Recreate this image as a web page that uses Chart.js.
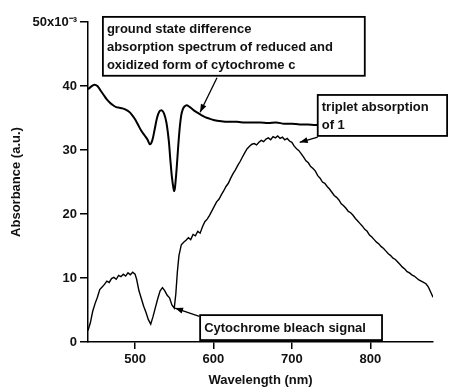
<!DOCTYPE html>
<html><head><meta charset="utf-8">
<script src="https://cdn.jsdelivr.net/npm/chart.js@4/dist/chart.umd.min.js"></script>
<style>html,body{margin:0;padding:0;background:#fff}#wrap{width:450px;height:388px}</style>
</head><body><div id="wrap"><canvas id="c" width="450" height="388"></canvas></div>
<script>
// Ground state difference spectrum (reduced - oxidized cytochrome c), x10^-3
const groundWavelengths = [440,444,448,452,456,460,464,468,472,476,480,484,488,492,496,500,504,508,512,516,519,522,525,528,531,534,537,540,543,545,547,549,550,551,553,555,557,559,561,563,566,570,575,580,585,590,595,600,610,620,630,640,650,660,670,680,690,700,710,720,730,738];
const groundAbsorbance  = [39.5,39.9,40.2,40.0,39.3,38.6,37.9,37.4,37.0,36.7,36.6,36.5,36.3,36.0,35.5,34.8,33.9,33.0,32.3,31.6,30.9,31.5,33.2,35.0,36.0,36.2,35.7,34.3,31.5,28.5,25.8,24.0,23.6,24.2,27.0,30.5,33.5,35.5,36.4,36.8,37.0,36.7,36.2,35.8,35.4,35.1,34.9,34.7,34.5,34.4,34.4,34.3,34.3,34.3,34.2,34.3,34.1,34.1,34.0,34.0,33.9,33.9];

// Triplet absorption of 1 (with cytochrome bleach), x10^-3
const tripletWavelengths = [440,443,446,449,452,455,458,461,464,467,470,473,476,479,482,485,488,491,494,497,500,502,505,508,511,514,517,520,523,526,529,532,535,538,541,544,547,550,552,554,556,559,562,565,568,571,574,577,580,583,586,589,592,595,598,601,604,607,610,613,616,619,622,625,628,631,634,637,640,643,646,649,652,655,658,661,664,667,670,673,676,679,682,685,688,691,694,697,700,703,706,709,712,715,718,721,724,727,730,733,736,739,742,745,748,751,754,757,760,763,766,769,772,775,778,781,784,787,790,793,796,799,802,805,808,811,814,817,820,823,826,829,832,835,838,841,844,847,850,853,856,859,862,865,868,871,874,877,880];
const tripletAbsorbance  = [1.8,3.0,4.8,6.0,7.0,8.2,8.6,9.0,9.5,9.3,9.9,10.1,9.8,10.4,10.2,10.6,10.3,10.8,10.5,10.9,10.6,9.8,8.0,6.8,5.6,4.6,3.5,2.8,4.0,5.4,6.8,8.0,8.5,8.0,7.3,6.9,5.8,5.3,7.5,11.0,13.5,15.2,15.6,15.9,16.3,16.0,16.8,16.6,17.3,17.0,18.0,18.8,19.2,19.8,20.5,21.2,21.9,22.3,23.0,23.6,24.3,24.8,25.6,26.3,26.9,27.6,28.2,28.9,29.6,30.2,30.6,30.9,31.0,30.8,31.2,31.5,31.3,31.7,31.9,31.6,32.1,31.9,32.2,31.8,32.0,31.6,31.8,31.4,31.2,30.6,30.2,29.9,29.4,28.9,28.3,28.0,27.4,27.1,26.7,26.0,25.6,25.0,24.8,24.3,23.9,23.4,22.9,22.6,22.2,21.6,21.3,20.9,20.4,20.2,19.8,19.3,18.9,18.5,18.1,17.6,17.3,16.7,16.4,16.0,15.6,15.3,14.9,14.6,14.2,13.8,13.5,13.1,12.9,12.5,12.1,11.7,11.4,11.0,10.8,10.5,10.3,10.0,9.7,9.5,9.3,9.1,8.6,7.8,7.0];

const xTickValues = [500,600,700,800];
const yTickValues = [0,10,20,30,40,50];
const yTopLabel = '50x10\u207B\u00B3';
const xTitle = 'Wavelength (nm)';
const yTitle = 'Absorbance (a.u.)';

const noteTexts = [
  ['ground state difference','absorption spectrum of reduced and','oxidized form of cytochrome c'],
  ['triplet absorption','of 1'],
  ['Cytochrome bleach signal']
];
// anchors in data units: box [xLeft, xRight, yTop, yBottom], arrow [fromX, fromY, toX, toY]
const noteAnchors = [
  {box:[459,793,50.8,41.6], arrow:[604.5,41.3,583,35.9], firstLine:13, lineStep:18},
  {box:[733,898,38.6,32.2], arrow:[733,32.0,710,31.2], firstLine:12, lineStep:18},
  {box:[583,815,4.2,0.3], arrow:[582,4.0,551,5.3], firstLine:13, lineStep:18}
];

const FONT = '"Liberation Sans", Arial, Helvetica, sans-serif';

const notesPlugin = {
  id:'notes',
  afterDraw(chart){
    const {ctx} = chart; const xs = chart.scales.x, ys = chart.scales.y;
    ctx.save();
    noteAnchors.forEach((a,i)=>{
      const L = xs.getPixelForValue(a.box[0]), R = xs.getPixelForValue(a.box[1]);
      const T = ys.getPixelForValue(a.box[2]), B = ys.getPixelForValue(a.box[3]);
      ctx.fillStyle='#fff'; ctx.fillRect(L,T,R-L,B-T);
      ctx.strokeStyle='#000'; ctx.lineWidth=1.8; ctx.strokeRect(L,T,R-L,B-T);
      ctx.fillStyle='#111'; ctx.font='bold 13px '+FONT; ctx.textBaseline='middle'; ctx.textAlign='left';
      noteTexts[i].forEach((t,k)=>ctx.fillText(t, L+4, T+a.firstLine+k*a.lineStep));
      const x1=xs.getPixelForValue(a.arrow[0]), y1=ys.getPixelForValue(a.arrow[1]);
      const x2=xs.getPixelForValue(a.arrow[2]), y2=ys.getPixelForValue(a.arrow[3]);
      ctx.strokeStyle='#000'; ctx.lineWidth=1.3;
      ctx.beginPath(); ctx.moveTo(x1,y1); ctx.lineTo(x2,y2); ctx.stroke();
      const ang=Math.atan2(y2-y1,x2-x1), len=8, w=3;
      ctx.beginPath(); ctx.moveTo(x2,y2);
      ctx.lineTo(x2-len*Math.cos(ang)+w*Math.sin(ang), y2-len*Math.sin(ang)-w*Math.cos(ang));
      ctx.lineTo(x2-len*Math.cos(ang)-w*Math.sin(ang), y2-len*Math.sin(ang)+w*Math.cos(ang));
      ctx.closePath(); ctx.fillStyle='#000'; ctx.fill();
    });
    ctx.restore();
  }
};

const toPts = (xa,ya)=>xa.map((v,i)=>({x:v,y:ya[i]}));

new Chart(document.getElementById('c'),{
  type:'line',
  data:{datasets:[
    {label:'ground state difference', data:toPts(groundWavelengths,groundAbsorbance), borderColor:'#000', borderWidth:2, pointRadius:0, tension:0.3, fill:false},
    {label:'triplet absorption of 1', data:toPts(tripletWavelengths,tripletAbsorbance), borderColor:'#000', borderWidth:1.4, pointRadius:0, tension:0, fill:false}
  ]},
  options:{
    responsive:false, devicePixelRatio:1, animation:false,
    layout:{padding:{left:0,top:22,right:17,bottom:0}},
    plugins:{legend:{display:false}, tooltip:{enabled:false}},
    scales:{
      x:{type:'linear', min:440, max:880,
        afterBuildTicks:ax=>{ax.ticks=xTickValues.map(v=>({value:v}));},
        afterFit:ax=>{ax.height=46;},
        grid:{drawOnChartArea:false, drawTicks:true, tickLength:7, color:'#000', lineWidth:1.5},
        border:{display:true, color:'#000', width:1.5},
        ticks:{color:'#111', font:{family:FONT,size:13,weight:'bold'}, padding:3, maxRotation:0},
        title:{display:true, text:xTitle, color:'#111', font:{family:FONT,size:13,weight:'bold'}, padding:{top:0,bottom:0}}
      },
      y:{type:'linear', min:0, max:50,
        afterBuildTicks:ax=>{ax.ticks=yTickValues.map(v=>({value:v}));},
        afterFit:ax=>{ax.width=88;},
        grid:{drawOnChartArea:false, drawTicks:true, tickLength:8, color:'#000', lineWidth:1.5},
        border:{display:true, color:'#000', width:1.5},
        ticks:{color:'#111', font:{family:FONT,size:13,weight:'bold'}, padding:3, callback:v=>v===50?yTopLabel:v},
        title:{display:true, text:yTitle, color:'#111', font:{family:FONT,size:13,weight:'bold'}, padding:{top:9,bottom:0}}
      }
    }
  },
  plugins:[notesPlugin]
});
</script></body></html>
